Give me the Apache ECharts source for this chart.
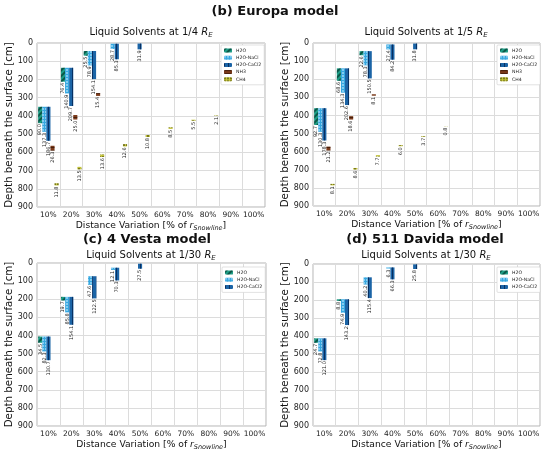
<!DOCTYPE html>
<html><head><meta charset="utf-8">
<script src="https://cdn.jsdelivr.net/npm/echarts/dist/echarts.min.js"></script>
<style>html,body{margin:0;padding:0;background:#fff}#c{width:550px;height:452px}</style>
</head><body><div id="c"></div>
<script>
const categories = ['10%','20%','30%','40%','50%','60%','70%','80%','90%','100%'];
const N = null;

// (b) Europa, 1/4 R_E : start depth [cm] and thickness [cm]
const b1WaterStart = [350, 136, 44, 4, 3, N, N, N, N, N];
const b1H2O   = [90.0, 76.4, 25.5, N, N, N, N, N, N, N];
const b1NaCl  = [137.3, 140.9, 78.9, 28.7, N, N, N, N, N, N];
const b1CaCl2 = [186.7, 209.7, 154.1, 85.3, 31.9, N, N, N, N, N];
const b1NH3Start = [564, 395, 275, N, N, N, N, N, N, N];
const b1NH3   = [26.3, 25.0, 15.4, N, N, N, N, N, N, N];
const b1CH4Start = [770, 680, 612, 555, 505, 463, 421, 398, N, N];
const b1CH4   = [11.8, 13.5, 13.6, 12.6, 10.8, 8.5, 5.5, 2.1, N, N];

// (b) Europa, 1/5 R_E
const b2WaterStart = [360, 140, 45, 8, 3, N, N, N, N, N];
const b2H2O   = [92.7, 68.6, 22.6, N, N, N, N, N, N, N];
const b2NaCl  = [130.3, 134.3, 78.3, 27.4, N, N, N, N, N, N];
const b2CaCl2 = [178.3, 202.6, 150.5, 84.2, 31.8, N, N, N, N, N];
const b2NH3Start = [572, 404, 283, N, N, N, N, N, N, N];
const b2NH3   = [21.2, 18.6, 8.1, N, N, N, N, N, N, N];
const b2CH4Start = [778, 690, 619, 564, 514, 460, N, N, N, N];
const b2CH4   = [8.1, 8.6, 7.7, 6.0, 3.7, 0.8, N, N, N, N];

// (c) 4 Vesta, 1/30 R_E
const cWaterStart = [406, 187, 73, 26, 4, N, N, N, N, N];
const cH2O   = [34.5, 19.7, N, N, N, N, N, N, N, N];
const cNaCl  = [82.3, 85.8, 47.6, 12.1, N, N, N, N, N, N];
const cCaCl2 = [130.7, 154.1, 122.5, 70.3, 27.5, N, N, N, N, N];

// (d) 511 Davida, 1/30 R_E
const dWaterStart = [413, 196, 74, 19, 2, N, N, N, N, N];
const dH2O   = [24.7, 8.8, N, N, N, N, N, N, N, N];
const dNaCl  = [72.8, 74.9, 40.2, 6.3, N, N, N, N, N, N];
const dCaCl2 = [121.0, 143.2, 115.4, 66.3, 25.8, N, N, N, N, N];

const EMPTY = categories.map(() => null);
const FONT = 'DejaVu Sans';

const STY = {
  'H2O':       {color:'#1c9e86', decal:{symbol:'rect', symbolSize:1, dashArrayX:[1,0], dashArrayY:[1.2,2], rotation:-Math.PI/4, color:'rgba(0,40,30,0.6)'}},
  'H2O-NaCl':  {color:'#35a7e0', decal:{symbol:'circle', symbolSize:0.9, dashArrayX:[1.5,1], dashArrayY:[1.5,1], color:'rgba(210,240,255,0.75)'}},
  'H2O-CaCl2': {color:'#1b64a6', decal:{symbol:'rect', symbolSize:1, dashArrayX:[1,2.2], dashArrayY:[2,0], color:'rgba(0,25,70,0.7)'}},
  'NH3':       {color:'#7b3a1a', decal:{symbol:'rect', symbolSize:1, dashArrayX:[2,0], dashArrayY:[1,1.6], color:'rgba(30,10,0,0.55)'}},
  'CH4':       {color:'#c4c43a', decal:{symbol:'circle', symbolSize:0.9, dashArrayX:[1.6,1], dashArrayY:[1.6,1], color:'rgba(40,40,0,0.7)'}}
};

const series = [];
function floating(g, name, starts, vals, visibleName) {
  const stack = 'g' + g + '_' + name;
  const baseData = vals.map((v, i) => v == null ? null : starts[i]);
  const common = {type:'bar', xAxisIndex:g, yAxisIndex:g, stack:stack, barGap:'0%', barCategoryGap:'10%'};
  series.push(Object.assign({}, common, {
    name:'_base' + g + name, data: baseData, silent:true,
    itemStyle:{color:'rgba(0,0,0,0)'}, label:{show:false}, emphasis:{disabled:true}
  }));
  const sty = STY[name];
  series.push(Object.assign({}, common, {
    name: visibleName || name, data: vals,
    itemStyle:{color: sty.color, decal: sty.decal, borderColor: sty.color, borderWidth: 0},
    emphasis:{disabled:true},
    label:{show:true, position:'bottom', distance:1, rotate:90, align:'right', verticalAlign:'middle',
      fontSize:5, fontFamily:FONT, color:'#222',
      formatter: p => p.value == null ? '' : Number(p.value).toFixed(1)}
  }));
}
function panel(g, ws, h2o, nacl, cacl2, nh3s, nh3, ch4s, ch4, dummy) {
  floating(g, 'H2O', ws, h2o);
  floating(g, 'H2O-NaCl', ws, nacl);
  floating(g, 'H2O-CaCl2', ws, cacl2);
  floating(g, 'NH3', nh3s, nh3, dummy ? '_nh3' + g : null);
  floating(g, 'CH4', ch4s, ch4, dummy ? '_ch4' + g : null);
}
panel(0, b1WaterStart, b1H2O, b1NaCl, b1CaCl2, b1NH3Start, b1NH3, b1CH4Start, b1CH4, false);
panel(1, b2WaterStart, b2H2O, b2NaCl, b2CaCl2, b2NH3Start, b2NH3, b2CH4Start, b2CH4, false);
panel(2, cWaterStart, cH2O, cNaCl, cCaCl2, EMPTY, EMPTY, EMPTY, EMPTY, true);
panel(3, dWaterStart, dH2O, dNaCl, dCaCl2, EMPTY, EMPTY, EMPTY, EMPTY, true);

const grids = [
  {left:37, top:43, width:228, height:164},
  {left:313, top:43, width:227, height:163},
  {left:37, top:263, width:229, height:164},
  {left:313, top:264, width:227, height:162}
].map(g => Object.assign(g, {show:true, borderColor:'#b4b4b4', borderWidth:1, backgroundColor:'#fff'}));

const richSub = {
  n:{fontSize:10, fontFamily:FONT, fontWeight:'normal', color:'#111', lineHeight:12, verticalAlign:'top'},
  i:{fontSize:10, fontFamily:FONT, fontWeight:'normal', color:'#111', fontStyle:'italic', lineHeight:12, verticalAlign:'top'},
  s:{fontSize:7, fontFamily:FONT, fontWeight:'normal', color:'#111', fontStyle:'italic', lineHeight:8, verticalAlign:'bottom'}
};
const xName = '{n|Distance Variation [% of }{i|r}{s|Snowline}{n|]}';
const xRich = {
  n:{fontSize:9.2, fontFamily:FONT, color:'#111', lineHeight:11, verticalAlign:'top'},
  i:{fontSize:9.2, fontFamily:FONT, color:'#111', fontStyle:'italic', lineHeight:11, verticalAlign:'top'},
  s:{fontSize:6.5, fontFamily:FONT, color:'#111', fontStyle:'italic', lineHeight:7, verticalAlign:'bottom'}
};

const xAxes = grids.map((g, i) => ({
  type:'category', gridIndex:i, data:categories, boundaryGap:true,
  axisLine:{show:false}, axisTick:{show:false},
  axisLabel:{interval:0, fontSize:7.5, fontFamily:FONT, color:'#222', margin:4},
  splitLine:{show:true, interval:0, lineStyle:{color:'#dcdcdc', width:1}},
  name:xName, nameLocation:'middle', nameGap:14, nameTextStyle:{rich:xRich}
}));
const yAxes = grids.map((g, i) => ({
  type:'value', gridIndex:i, inverse:true, min:0, max:900, interval:100,
  axisLine:{show:false}, axisTick:{show:false},
  axisLabel:{fontSize:8, fontFamily:FONT, color:'#222', margin:4},
  splitLine:{show:true, lineStyle:{color:'#dcdcdc', width:1}},
  name:'Depth beneath the surface [cm]', nameLocation:'middle', nameGap:22,
  nameTextStyle:{fontSize:10.3, fontFamily:FONT, color:'#111'}
}));

const legendBase = {orient:'vertical', itemWidth:8, itemHeight:4, itemGap:2.2, padding:[3,3,3,3],
  backgroundColor:'#fff', borderColor:'#cccccc', borderWidth:0.6, borderRadius:1,
  textStyle:{fontSize:4.6, fontFamily:FONT, color:'#222', padding:[0,0,0,-1]}, selectedMode:false};
const all5 = ['H2O','H2O-NaCl','H2O-CaCl2','NH3','CH4'];
const only3 = ['H2O','H2O-NaCl','H2O-CaCl2'];
const legends = [
  Object.assign({}, legendBase, {left:221, top:45, data:all5}),
  Object.assign({}, legendBase, {left:497, top:45, data:all5}),
  Object.assign({}, legendBase, {left:222, top:267, data:only3}),
  Object.assign({}, legendBase, {left:497, top:267, data:only3})
];

const bold = {fontSize:13, fontWeight:'bold', fontFamily:FONT, color:'#111'};
const titles = [
  {text:'(b) Europa model', left:275, textAlign:'center', top:5, textStyle:bold},
  {text:'(c) 4 Vesta model', left:147, textAlign:'center', top:233, textStyle:bold},
  {text:'(d) 511 Davida model', left:425, textAlign:'center', top:233, textStyle:bold},
  {text:'{n|Liquid Solvents at 1/4 }{i|R}{s|E}', left:151, textAlign:'center', top:27, textStyle:{fontWeight:'normal', rich:richSub}},
  {text:'{n|Liquid Solvents at 1/5 }{i|R}{s|E}', left:426, textAlign:'center', top:27, textStyle:{fontWeight:'normal', rich:richSub}},
  {text:'{n|Liquid Solvents at 1/30 }{i|R}{s|E}', left:151, textAlign:'center', top:250, textStyle:{fontWeight:'normal', rich:richSub}},
  {text:'{n|Liquid Solvents at 1/30 }{i|R}{s|E}', left:426, textAlign:'center', top:250, textStyle:{fontWeight:'normal', rich:richSub}}
].map(t => Object.assign({padding:0}, t));

const chart = echarts.init(document.getElementById('c'), null, {renderer:'canvas'});
chart.setOption({
  animation:false,
  backgroundColor:'#fff',
  title:titles,
  legend:legends,
  grid:grids,
  xAxis:xAxes,
  yAxis:yAxes,
  series:series
});
</script>
</body></html>
